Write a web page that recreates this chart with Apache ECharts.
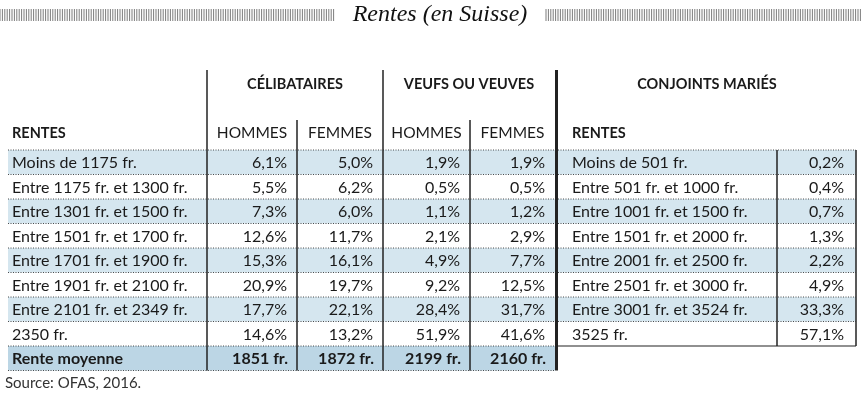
<!DOCTYPE html>
<html><head><meta charset="utf-8">
<script src="https://cdn.jsdelivr.net/npm/echarts@6/dist/echarts.min.js"></script>
<style>html,body{margin:0;padding:0;background:#fff}#c{width:861px;height:400px}</style>
</head><body><div id="c"></div>
<script>
const title = "Rentes (en Suisse)";
const source = "Source: OFAS, 2016.";
const groupHeaders = ["CÉLIBATAIRES", "VEUFS OU VEUVES", "CONJOINTS MARIÉS"];
const subHeaders = ["HOMMES", "FEMMES", "HOMMES", "FEMMES"];
const leftRentes = ["Moins de 1175 fr.","Entre 1175 fr. et 1300 fr.","Entre 1301 fr. et 1500 fr.","Entre 1501 fr. et 1700 fr.","Entre 1701 fr. et 1900 fr.","Entre 1901 fr. et 2100 fr.","Entre 2101 fr. et 2349 fr.","2350 fr."];
const celibHommes = ["6,1%","5,5%","7,3%","12,6%","15,3%","20,9%","17,7%","14,6%"];
const celibFemmes = ["5,0%","6,2%","6,0%","11,7%","16,1%","19,7%","22,1%","13,2%"];
const veufsHommes = ["1,9%","0,5%","1,1%","2,1%","4,9%","9,2%","28,4%","51,9%"];
const veufsFemmes = ["1,9%","0,5%","1,2%","2,9%","7,7%","12,5%","31,7%","41,6%"];
const moyenneLabel = "Rente moyenne";
const moyenne = ["1851 fr.","1872 fr.","2199 fr.","2160 fr."];
const rightRentes = ["Moins de 501 fr.","Entre 501 fr. et 1000 fr.","Entre 1001 fr. et 1500 fr.","Entre 1501 fr. et 2000 fr.","Entre 2001 fr. et 2500 fr.","Entre 2501 fr. et 3000 fr.","Entre 3001 fr. et 3524 fr.","3525 fr."];
const maries = ["0,2%","0,4%","0,7%","1,3%","2,2%","4,9%","33,3%","57,1%"];

const X = [8,207,297,383,470,555,558,777,856];
const ROW0 = 150, RH = 24.5;
const F = "Lato";
const SHADE = "#d5e6ef", SHADE2 = "#bcd6e5";

const cols = [celibHommes, celibFemmes, veufsHommes, veufsFemmes];
function build(api){
  const c = (x,y)=>api.coord([x,y]);
  const ch = [];
  const line=(x1,y1,x2,y2,w,dash)=>{const a=c(x1,y1),b=c(x2,y2);ch.push({type:'line',shape:{x1:a[0],y1:a[1],x2:b[0],y2:b[1]},style:{stroke:'#222',lineWidth:w||1.2,lineDash:dash||null}});};
  const rect=(x1,y1,x2,y2,fill)=>{const a=c(x1,y1),b=c(x2,y2);ch.push({type:'rect',shape:{x:a[0],y:a[1],width:b[0]-a[0],height:b[1]-a[1]},style:{fill}});};
  const text=(s,x,y,align,bold,size,extra)=>{const a=c(x,y);ch.push({type:'text',x:a[0],y:a[1],style:Object.assign({text:s,fill:'#1a1a1a',font:(bold?'bold ':'')+(size||16)+'px '+F,align:align,verticalAlign:'middle'},extra||{})});};
  for(let r=0;r<leftRentes.length;r++){
    if(r%2===0){rect(X[0],ROW0+r*RH,X[5],ROW0+(r+1)*RH,SHADE);rect(X[6],ROW0+r*RH,X[8],ROW0+(r+1)*RH,SHADE);}
  }
  const my=ROW0+8*RH;
  rect(X[0],my,X[5],my+RH,SHADE2);
  for(let r=0;r<=8;r++){
    const y=ROW0+r*RH;
    line(X[0],y,X[5],y,0.8,[1,1.5]);
    if(r<8) line(X[6],y,X[8],y,0.8,[1,1.5]);
  }
  line(X[6],my,X[8],my,1.2);
  line(X[0],my+RH,X[5],my+RH,0.8,[1,1.5]);
  line(X[1],70,X[1],my+RH,1.5);
  line(X[2],120,X[2],my+RH,1.5);
  line(X[3],70,X[3],my+RH,1.5);
  line(X[4],120,X[4],my+RH,1.5);
  line(556.5,70,556.5,my+RH,3);
  line(X[7],ROW0,X[7],my,1.5);
  line(X[8],ROW0,X[8],my,1.5);
  text(groupHeaders[0],(X[1]+X[3])/2,84,'center',true,14.5);
  text(groupHeaders[1],(X[3]+X[5])/2,84,'center',true,14.5);
  text(groupHeaders[2],(X[6]+X[8])/2,84,'center',true,14.5);
  text("RENTES",12,133,'left',true,14.5);
  text("RENTES",572,133,'left',true,14.5);
  for(let i=0;i<4;i++) text(subHeaders[i],(X[i+1]+X[i+2])/2,133,'center',false,15.5);
  for(let r=0;r<8;r++){
    const y=ROW0+(r+0.5)*RH+1;
    text(leftRentes[r],12,y,'left');
    for(let i=0;i<4;i++) text(cols[i][r],X[i+2]-10,y,'right');
    text(rightRentes[r],572,y,'left');
    text(maries[r],X[8]-12,y,'right');
  }
  const yy=my+RH/2+1;
  text(moyenneLabel,12,yy,'left',true,16);
  for(let i=0;i<4;i++) text(moyenne[i],X[i+2]-9,yy,'right',true,16);
  text(title,440,15,'center',false,24,{font:'italic 24px "Liberation Serif"',fill:'#111'});
  for(let x=0;x<=334;x+=2.4){const p=c(x,9),q=c(x,21);ch.push({type:'line',shape:{x1:p[0],y1:p[1],x2:q[0],y2:q[1]},style:{stroke:'#444',lineWidth:0.7}});}
  for(let x=546;x<=861;x+=2.4){const p=c(x,9),q=c(x,21);ch.push({type:'line',shape:{x1:p[0],y1:p[1],x2:q[0],y2:q[1]},style:{stroke:'#444',lineWidth:0.7}});}
  text(source,5,383,'left',false,15,{fill:'#333'});
  return {type:'group',children:ch};
}
const chart = echarts.init(document.getElementById('c'));
chart.setOption({
  animation:false,
  grid:{left:0,right:0,top:0,bottom:0},
  xAxis:{type:'value',min:0,max:861,show:false},
  yAxis:{type:'value',min:0,max:400,inverse:true,show:false},
  series:[{type:'custom',data:[[0,0]],renderItem:(p,api)=>build(api),silent:true}]
});
</script></body></html>
